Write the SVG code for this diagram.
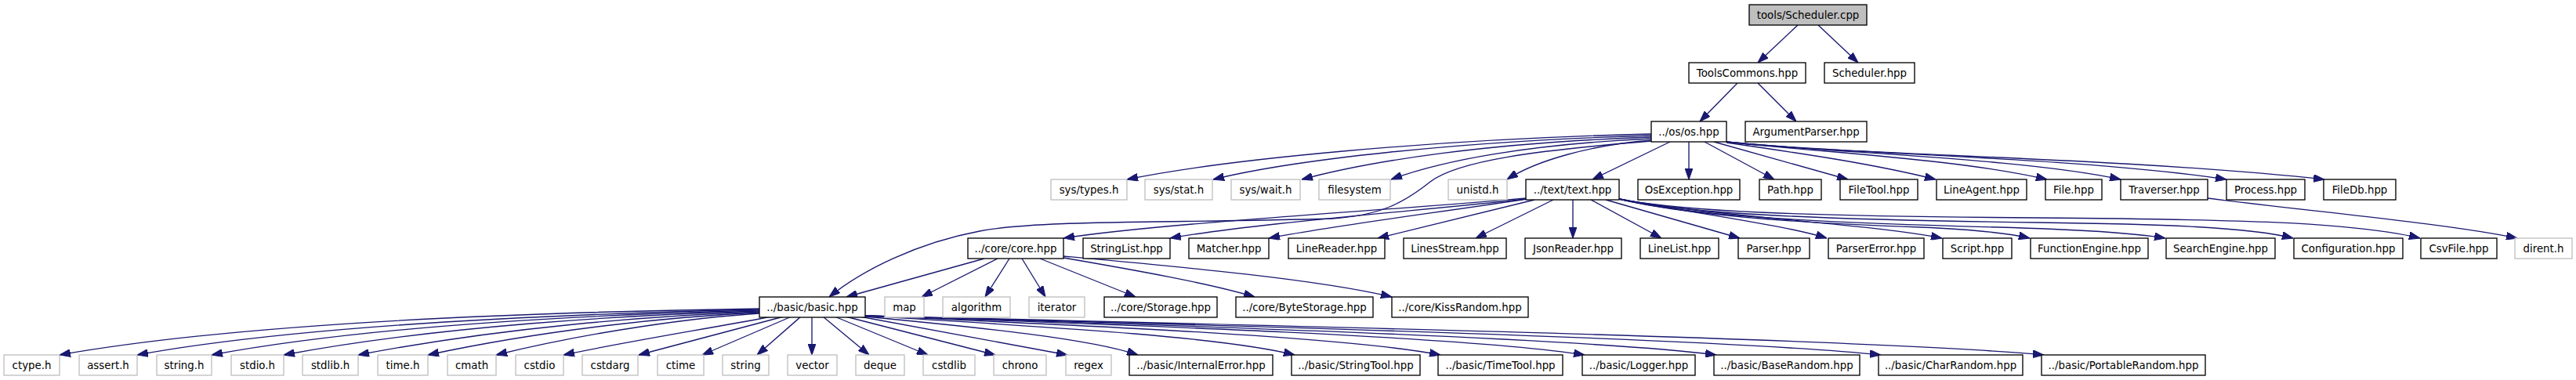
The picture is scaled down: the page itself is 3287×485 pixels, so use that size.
<svg xmlns="http://www.w3.org/2000/svg" width="3287" height="485" viewBox="0 0 3287 485">
<style>
.n rect{fill:#fff;stroke:#000;stroke-width:1.33}
.s rect{fill:#fff;stroke:#bfbfbf;stroke-width:1.33}
.r rect{fill:#bfbfbf;stroke:#000;stroke-width:1.33}
text{font-family:"DejaVu Sans",Verdana,sans-serif;font-size:13.33px;text-anchor:middle;fill:#000}
#edges path{fill:none;stroke:#191970;stroke-width:1.33;marker-end:url(#ah)}
</style>
<defs>
<marker id="ah" markerUnits="userSpaceOnUse" markerWidth="14" markerHeight="10" refX="13.3" refY="4.67" orient="auto" viewBox="0 0 13.3 9.34">
<path d="M0,0 L13.3,4.67 L0,9.34 z" fill="#191970" stroke="#191970" stroke-width="1"/>
</marker>
</defs>
<rect width="3287" height="485" fill="#fff"/>
<g id="edges">
<path d="M2294,32 L2243,80"/>
<path d="M2320,32 L2371,80"/>
<path d="M2217,106 L2169,155"/>
<path d="M2243,106 L2292,155"/>
<path d="M2107,171 C1820,178 1560,204 1438,229"/>
<path d="M2107,173 C1860,180 1650,204 1548,229"/>
<path d="M2107,175 C1900,182 1750,205 1661,229"/>
<path d="M2107,177 C1950,184 1840,205 1775,229"/>
<path d="M2107,179 C2030,185 1960,205 1923,229"/>
<path d="M2107,180 C1960,192 1860,205 1825,232 C1790,260 1760,275 1700,279 C1500,285 1330,280 1250,295 C1170,310 1100,345 1058,379"/>
<path d="M2131,181 L2032,229"/>
<path d="M2155,181 L2155,229"/>
<path d="M2175,181 L2264,229"/>
<path d="M2187,181 L2358,229"/>
<path d="M2203,182 C2300,196 2390,209 2470,229"/>
<path d="M2203,181 C2330,195 2500,203 2612,229"/>
<path d="M2203,181 C2350,196 2580,202 2706,229"/>
<path d="M2203,181 C2350,197 2650,200 2841,229"/>
<path d="M2203,181 C2350,198 2700,200 2966,229"/>
<path d="M1948,253 C1750,270 1480,285 1357,304"/>
<path d="M1948,254 C1800,270 1600,285 1493,304"/>
<path d="M1948,254 C1830,272 1700,288 1619,304"/>
<path d="M1958,255 L1758,304"/>
<path d="M1982,255 L1883,304"/>
<path d="M2007,255 L2007,304"/>
<path d="M2030,255 L2120,304"/>
<path d="M2049,255 L2220,304"/>
<path d="M2066,254 C2180,275 2280,288 2331,304"/>
<path d="M2066,254 C2200,278 2380,285 2478,304"/>
<path d="M2066,254 C2150,274 2300,285 2450,290 C2520,293 2560,297 2590,304"/>
<path d="M2066,254 C2150,274 2300,284 2550,290 C2660,293 2720,297 2763,304"/>
<path d="M2066,254 C2150,272 2300,280 2600,284 C2760,286 2870,290 2926,304"/>
<path d="M2066,254 C2150,270 2300,276 2600,278 C2850,280 3000,283 3088,304"/>
<path d="M2817,253 C2950,270 3120,285 3212,304"/>
<path d="M1256,330 L1080,379"/>
<path d="M1273,330 L1176,379"/>
<path d="M1288,330 L1257,379"/>
<path d="M1304,330 L1334,379"/>
<path d="M1327,330 L1449,379"/>
<path d="M1357,329 C1450,345 1545,362 1601,379"/>
<path d="M1357,327 C1500,340 1680,356 1776,379"/>
<path d="M969,394 C700,398 320,410 76,453"/>
<path d="M969,395 C750,400 400,412 175,453"/>
<path d="M969,396 C780,401 480,414 270,453"/>
<path d="M969,397 C800,402 560,416 362,453"/>
<path d="M969,398 C830,403 640,418 457,453"/>
<path d="M969,399 C860,404 700,420 546,453"/>
<path d="M969,400 C890,405 760,422 633,453"/>
<path d="M985,404 C900,420 800,436 719,453"/>
<path d="M1000,404 L815,453"/>
<path d="M1010,404 L896,453"/>
<path d="M1022,404 L966,453"/>
<path d="M1036,404 L1036,453"/>
<path d="M1050,404 L1109,453"/>
<path d="M1065,404 L1184,453"/>
<path d="M1079,404 L1270,453"/>
<path d="M1097,404 L1362,453"/>
<path d="M1104,404 C1250,418 1390,432 1452,453"/>
<path d="M1104,403 C1350,418 1560,430 1652,453"/>
<path d="M1104,403 C1400,416 1720,430 1838,453"/>
<path d="M1104,403 C1450,415 1880,430 2022,453"/>
<path d="M1104,403 C1500,415 2030,432 2190,453"/>
<path d="M1104,403 C1550,415 2200,432 2400,453"/>
<path d="M1104,403 C1600,415 2380,432 2608,453"/>
</g>
<g id="n_root" class="r"><rect x="2232" y="6" width="150" height="26"/><text x="2307" y="23.5">tools/Scheduler.cpp</text></g>
<g id="n_toolscommons" class="n"><rect x="2155" y="80" width="149" height="26"/><text x="2229.5" y="97.5">ToolsCommons.hpp</text></g>
<g id="n_schedulerhpp" class="n"><rect x="2328" y="80" width="115" height="26"/><text x="2385.5" y="97.5">Scheduler.hpp</text></g>
<g id="n_os" class="n"><rect x="2107" y="155" width="96" height="26"/><text x="2155" y="172.5">../os/os.hpp</text></g>
<g id="n_argparser" class="n"><rect x="2227" y="155" width="155" height="26"/><text x="2304.5" y="172.5">ArgumentParser.hpp</text></g>
<g id="n_systypes" class="s"><rect x="1341" y="229" width="97" height="26"/><text x="1389.5" y="246.5">sys/types.h</text></g>
<g id="n_sysstat" class="s"><rect x="1461" y="229" width="86" height="26"/><text x="1504" y="246.5">sys/stat.h</text></g>
<g id="n_syswait" class="s"><rect x="1571" y="229" width="88" height="26"/><text x="1615" y="246.5">sys/wait.h</text></g>
<g id="n_filesystem" class="s"><rect x="1683" y="229" width="91" height="26"/><text x="1728.5" y="246.5">filesystem</text></g>
<g id="n_unistd" class="s"><rect x="1848" y="229" width="75" height="26"/><text x="1885.5" y="246.5">unistd.h</text></g>
<g id="n_text" class="n"><rect x="1947" y="229" width="119" height="26"/><text x="2006.5" y="246.5">../text/text.hpp</text></g>
<g id="n_osexception" class="n"><rect x="2090" y="229" width="130" height="26"/><text x="2155" y="246.5">OsException.hpp</text></g>
<g id="n_path" class="n"><rect x="2245" y="229" width="79" height="26"/><text x="2284.5" y="246.5">Path.hpp</text></g>
<g id="n_filetool" class="n"><rect x="2348" y="229" width="99" height="26"/><text x="2397.5" y="246.5">FileTool.hpp</text></g>
<g id="n_lineagent" class="n"><rect x="2471" y="229" width="115" height="26"/><text x="2528.5" y="246.5">LineAgent.hpp</text></g>
<g id="n_file" class="n"><rect x="2610" y="229" width="72" height="26"/><text x="2646" y="246.5">File.hpp</text></g>
<g id="n_traverser" class="n"><rect x="2706" y="229" width="111" height="26"/><text x="2761.5" y="246.5">Traverser.hpp</text></g>
<g id="n_process" class="n"><rect x="2841" y="229" width="100" height="26"/><text x="2891" y="246.5">Process.hpp</text></g>
<g id="n_filedb" class="n"><rect x="2965" y="229" width="92" height="26"/><text x="3011" y="246.5">FileDb.hpp</text></g>
<g id="n_core" class="n"><rect x="1235" y="304" width="122" height="26"/><text x="1296" y="321.5">../core/core.hpp</text></g>
<g id="n_stringlist" class="n"><rect x="1382" y="304" width="111" height="26"/><text x="1437.5" y="321.5">StringList.hpp</text></g>
<g id="n_matcher" class="n"><rect x="1517" y="304" width="102" height="26"/><text x="1568" y="321.5">Matcher.hpp</text></g>
<g id="n_linereader" class="n"><rect x="1644" y="304" width="123" height="26"/><text x="1705.5" y="321.5">LineReader.hpp</text></g>
<g id="n_linesstream" class="n"><rect x="1791" y="304" width="131" height="26"/><text x="1856.5" y="321.5">LinesStream.hpp</text></g>
<g id="n_jsonreader" class="n"><rect x="1946" y="304" width="123" height="26"/><text x="2007.5" y="321.5">JsonReader.hpp</text></g>
<g id="n_linelist" class="n"><rect x="2093" y="304" width="100" height="26"/><text x="2143" y="321.5">LineList.hpp</text></g>
<g id="n_parser" class="n"><rect x="2218" y="304" width="91" height="26"/><text x="2263.5" y="321.5">Parser.hpp</text></g>
<g id="n_parsererror" class="n"><rect x="2333" y="304" width="122" height="26"/><text x="2394" y="321.5">ParserError.hpp</text></g>
<g id="n_script" class="n"><rect x="2479" y="304" width="88" height="26"/><text x="2523" y="321.5">Script.hpp</text></g>
<g id="n_functionengine" class="n"><rect x="2591" y="304" width="150" height="26"/><text x="2666" y="321.5">FunctionEngine.hpp</text></g>
<g id="n_searchengine" class="n"><rect x="2764" y="304" width="139" height="26"/><text x="2833.5" y="321.5">SearchEngine.hpp</text></g>
<g id="n_configuration" class="n"><rect x="2927" y="304" width="139" height="26"/><text x="2996.5" y="321.5">Configuration.hpp</text></g>
<g id="n_csvfile" class="n"><rect x="3089" y="304" width="97" height="26"/><text x="3137.5" y="321.5">CsvFile.hpp</text></g>
<g id="n_dirent" class="s"><rect x="3209" y="304" width="73" height="26"/><text x="3245.5" y="321.5">dirent.h</text></g>
<g id="n_basic" class="n"><rect x="969" y="379" width="135" height="26"/><text x="1036.5" y="396.5">../basic/basic.hpp</text></g>
<g id="n_map" class="s"><rect x="1129" y="379" width="50" height="26"/><text x="1154" y="396.5">map</text></g>
<g id="n_algorithm" class="s"><rect x="1203" y="379" width="86" height="26"/><text x="1246" y="396.5">algorithm</text></g>
<g id="n_iterator" class="s"><rect x="1313" y="379" width="71" height="26"/><text x="1348.5" y="396.5">iterator</text></g>
<g id="n_storage" class="n"><rect x="1409" y="379" width="144" height="26"/><text x="1481" y="396.5">../core/Storage.hpp</text></g>
<g id="n_bytestorage" class="n"><rect x="1577" y="379" width="175" height="26"/><text x="1664.5" y="396.5">../core/ByteStorage.hpp</text></g>
<g id="n_kissrandom" class="n"><rect x="1776" y="379" width="174" height="26"/><text x="1863" y="396.5">../core/KissRandom.hpp</text></g>
<g id="n_ctype" class="s"><rect x="5" y="453" width="71" height="26"/><text x="40.5" y="470.5">ctype.h</text></g>
<g id="n_assert" class="s"><rect x="101" y="453" width="74" height="26"/><text x="138" y="470.5">assert.h</text></g>
<g id="n_stringh" class="s"><rect x="200" y="453" width="70" height="26"/><text x="235" y="470.5">string.h</text></g>
<g id="n_stdio" class="s"><rect x="295" y="453" width="67" height="26"/><text x="328.5" y="470.5">stdio.h</text></g>
<g id="n_stdlib" class="s"><rect x="386" y="453" width="71" height="26"/><text x="421.5" y="470.5">stdlib.h</text></g>
<g id="n_time" class="s"><rect x="482" y="453" width="64" height="26"/><text x="514" y="470.5">time.h</text></g>
<g id="n_cmath" class="s"><rect x="571" y="453" width="62" height="26"/><text x="602" y="470.5">cmath</text></g>
<g id="n_cstdio" class="s"><rect x="658" y="453" width="61" height="26"/><text x="688.5" y="470.5">cstdio</text></g>
<g id="n_cstdarg" class="s"><rect x="743" y="453" width="71" height="26"/><text x="778.5" y="470.5">cstdarg</text></g>
<g id="n_ctime" class="s"><rect x="839" y="453" width="59" height="26"/><text x="868.5" y="470.5">ctime</text></g>
<g id="n_string" class="s"><rect x="922" y="453" width="59" height="26"/><text x="951.5" y="470.5">string</text></g>
<g id="n_vector" class="s"><rect x="1005" y="453" width="63" height="26"/><text x="1036.5" y="470.5">vector</text></g>
<g id="n_deque" class="s"><rect x="1092" y="453" width="62" height="26"/><text x="1123" y="470.5">deque</text></g>
<g id="n_cstdlib" class="s"><rect x="1178" y="453" width="66" height="26"/><text x="1211" y="470.5">cstdlib</text></g>
<g id="n_chrono" class="s"><rect x="1268" y="453" width="67" height="26"/><text x="1301.5" y="470.5">chrono</text></g>
<g id="n_regex" class="s"><rect x="1360" y="453" width="58" height="26"/><text x="1389" y="470.5">regex</text></g>
<g id="n_internalerror" class="n"><rect x="1441" y="453" width="183" height="26"/><text x="1532.5" y="470.5">../basic/InternalError.hpp</text></g>
<g id="n_stringtool" class="n"><rect x="1648" y="453" width="164" height="26"/><text x="1730" y="470.5">../basic/StringTool.hpp</text></g>
<g id="n_timetool" class="n"><rect x="1835" y="453" width="159" height="26"/><text x="1914.5" y="470.5">../basic/TimeTool.hpp</text></g>
<g id="n_logger" class="n"><rect x="2019" y="453" width="144" height="26"/><text x="2091" y="470.5">../basic/Logger.hpp</text></g>
<g id="n_baserandom" class="n"><rect x="2187" y="453" width="186" height="26"/><text x="2280" y="470.5">../basic/BaseRandom.hpp</text></g>
<g id="n_charrandom" class="n"><rect x="2397" y="453" width="184" height="26"/><text x="2489" y="470.5">../basic/CharRandom.hpp</text></g>
<g id="n_portablerandom" class="n"><rect x="2605" y="453" width="209" height="26"/><text x="2709.5" y="470.5">../basic/PortableRandom.hpp</text></g>
</svg>
